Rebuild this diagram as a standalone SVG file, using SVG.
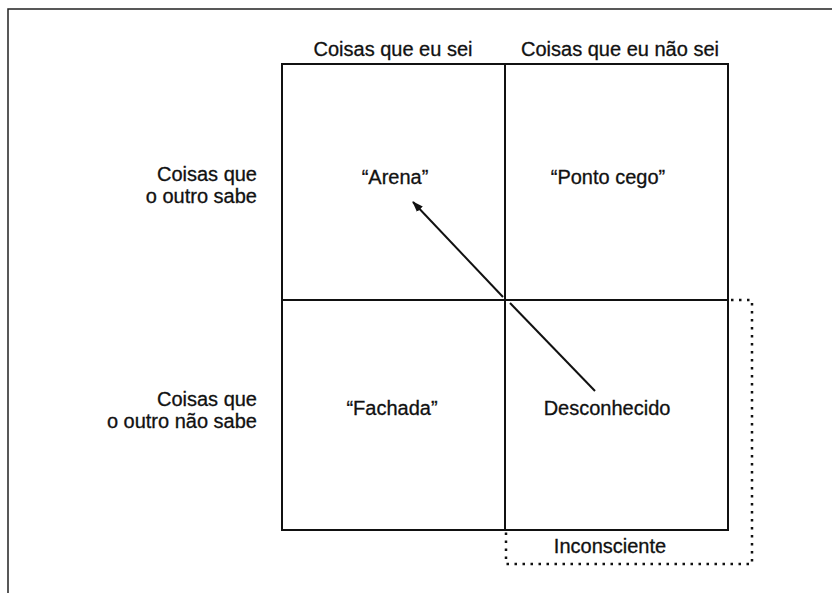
<svg xmlns="http://www.w3.org/2000/svg" width="832" height="593" viewBox="0 0 832 593">
<style>
text{font-family:"Liberation Sans",Arial,sans-serif;font-size:20px;fill:#111;stroke:#111;stroke-width:0.3}
.c{text-anchor:middle}
.r{text-anchor:end}
.g{stroke:#111;stroke-width:2;fill:none}
.dot{stroke:#111;stroke-width:2.5;fill:none;stroke-dasharray:2.5 5.5}
</style>
<defs>
<marker id="ah" markerWidth="11" markerHeight="10" refX="10" refY="5" orient="auto" markerUnits="userSpaceOnUse" viewBox="0 0 11 10">
<path d="M0,1 L11,5 L0,9 Z" fill="#111"/>
</marker>
</defs>
<rect width="832" height="593" fill="#fff"/>
<g id="frame">
<path d="M8,593 V9 H832" fill="none" stroke="#222" stroke-width="1.5"/>
</g>
<g id="grid">
<rect x="282" y="64" width="446" height="466" class="g"/>
<line x1="505" y1="64" x2="505" y2="530" class="g"/>
<line x1="282" y1="300" x2="728" y2="300" class="g"/>
</g>
<g id="col-headers">
<text x="393" y="56" class="c">Coisas que eu sei</text>
<text x="620" y="56" class="c">Coisas que eu não sei</text>
</g>
<g id="row-headers">
<text x="257" y="181" class="r">Coisas que</text>
<text x="257" y="203" class="r">o outro sabe</text>
<text x="257" y="406" class="r">Coisas que</text>
<text x="257" y="428" class="r">o outro não sabe</text>
</g>
<g id="arena"><text x="395" y="184" class="c">“Arena”</text></g>
<g id="ponto-cego"><text x="608" y="184" class="c">“Ponto cego”</text></g>
<g id="fachada"><text x="392" y="415" class="c">“Fachada”</text></g>
<g id="desconhecido"><text x="607" y="415" class="c">Desconhecido</text></g>
<g id="inconsciente">
<path d="M731,300 H752 V564 H506 V532" class="dot"/>
<text x="610" y="553" class="c">Inconsciente</text>
</g>
<g id="connectors">
<line x1="503" y1="297" x2="413" y2="202" stroke="#111" stroke-width="2" marker-end="url(#ah)"/>
<line x1="510" y1="303" x2="595" y2="391" stroke="#111" stroke-width="2"/>
</g>
</svg>
